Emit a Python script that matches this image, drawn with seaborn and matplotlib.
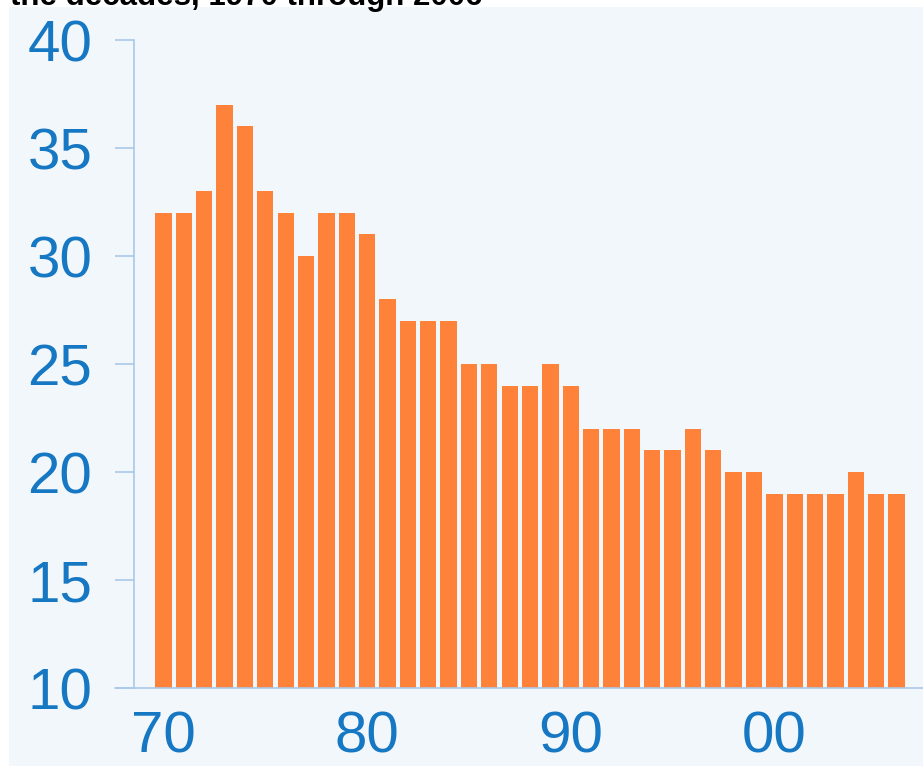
import matplotlib
matplotlib.use("Agg")
import matplotlib.pyplot as plt
from matplotlib.patches import Rectangle
import pandas as pd
import seaborn as sns

# Annual values, 1970-2006
years = list(range(1970, 2007))
values = [32, 32, 33, 37, 36, 33, 32, 30, 32, 32,
          31, 28, 27, 27, 27, 25, 25, 24, 24, 25,
          24, 22, 22, 22, 21, 21, 22, 21, 20, 20,
          19, 19, 19, 19, 20, 19, 19]
y_ticks = [10, 15, 20, 25, 30, 35, 40]
x_ticks = [1970, 1980, 1990, 2000]
x_tick_labels = ["70", "80", "90", "00"]
title_text = "the decades, 1970 through 2006"

BAR = "#FE8239"
PANEL = "#F2F7FC"
AXIS = "#A9C8EA"
LABEL = "#1677C3"

sns.set_theme(style="white")
plt.rcParams["font.family"] = ["Liberation Sans", "DejaVu Sans"]

W, H = 923, 766
fig = plt.figure(figsize=(W / 100, H / 100), dpi=100, facecolor="white")

# light panel behind the chart
fig.patches.append(Rectangle((9 / W, 0), 1 - 9 / W, 1 - 7 / H,
                             transform=fig.transFigure, facecolor=PANEL,
                             edgecolor="none", zorder=-5))

ax = fig.add_axes([134 / W, 78 / H, (W - 134) / W, (688 - 40) / H])
ax.set_facecolor("none")
ax.set_zorder(2)

df = pd.DataFrame({"year": years, "value": values})
sns.barplot(data=df, x="year", y="value", native_scale=True, color=BAR,
            saturation=1, width=0.8, ax=ax, linewidth=0)

ax.set_ylim(10, 40)
ax.set_xlim(1970 - 1.45, 2006 + 1.3)
ax.set_yticks(y_ticks)
ax.set_xticks(x_ticks)
ax.set_xticklabels(x_tick_labels)
ax.set_xlabel("")
ax.set_ylabel("")

for side in ("top", "right", "bottom"):
    ax.spines[side].set_visible(False)
ax.spines["left"].set_color(AXIS)
ax.spines["left"].set_linewidth(1.2)

# baseline that runs out under the y tick marks
ax.plot([-19 / (W - 134), 1], [10, 10], transform=ax.get_yaxis_transform(),
        color=AXIS, lw=1.2, clip_on=False, zorder=5)

ax.tick_params(axis="y", which="major", left=True, length=14, width=1.2,
               color=AXIS, pad=16, labelsize=42, labelcolor=LABEL)
ax.tick_params(axis="x", which="major", bottom=False, length=0, pad=16,
               labelsize=42, labelcolor=LABEL)

# headline running off the top edge
fig.text(10 / W, 1 - 5 / H, title_text, ha="left", va="baseline",
         fontsize=22.5, fontweight="bold", color="black", zorder=3)

fig.savefig("out.png", dpi=100, facecolor="white")
